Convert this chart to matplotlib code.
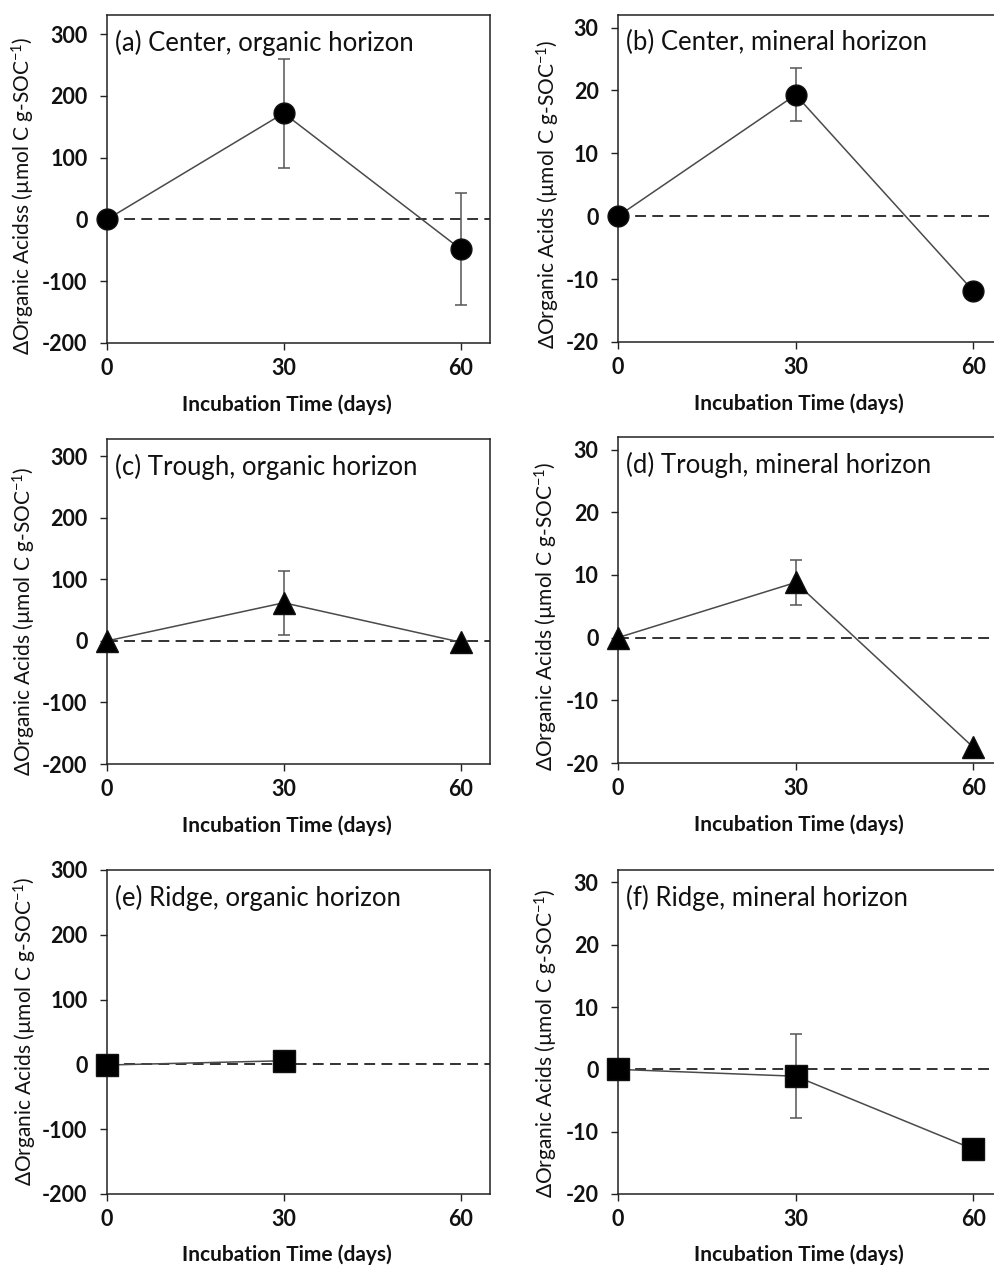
import numpy as np
import matplotlib
matplotlib.use("Agg")
import matplotlib.pyplot as plt

plt.rcParams['font.family'] = ['Lato', 'DejaVu Sans']
plt.rcParams['mathtext.default'] = 'regular'
plt.rcParams['axes.unicode_minus'] = False

# dados
days = [0, 30, 60]

center_org = [0, 172, -48]
center_org_err = [0, 88, 91]
center_min = [0, 19.3, -11.9]
center_min_err = [0, 4.2, 0]

trough_org = [0, 62, -2]
trough_org_err = [0, 52, 0]
trough_min = [0, 8.8, -17.5]
trough_min_err = [0, 3.6, 0]

ridge_org_days = [0, 30]
ridge_org = [-1, 5.6]
ridge_org_err = [0, 0]
ridge_min = [0, -1.1, -12.8]
ridge_min_err = [0, 6.7, 0]

titles = ['(a) Center, organic horizon', '(b) Center, mineral horizon',
          '(c) Trough, organic horizon', '(d) Trough, mineral horizon',
          '(e) Ridge, organic horizon', '(f) Ridge, mineral horizon']

ylab_a = 'ΔOrganic Acidss (µmol C g-SOC$^{-1}$)'
ylab = 'ΔOrganic Acids (µmol C g-SOC$^{-1}$)'

panels = [
    (days, center_org, center_org_err, 'o', 15, (-200, 331), [-200, -100, 0, 100, 200, 300], ylab_a),
    (days, center_min, center_min_err, 'o', 15, (-20, 32), [-20, -10, 0, 10, 20, 30], ylab),
    (days, trough_org, trough_org_err, '^', 16, (-200, 328), [-200, -100, 0, 100, 200, 300], ylab),
    (days, trough_min, trough_min_err, '^', 16, (-20, 32), [-20, -10, 0, 10, 20, 30], ylab),
    (ridge_org_days, ridge_org, ridge_org_err, 's', 16, (-200, 300), [-200, -100, 0, 100, 200, 300], ylab),
    (days, ridge_min, ridge_min_err, 's', 16, (-20, 32), [-20, -10, 0, 10, 20, 30], ylab),
]

# posicoes dos eixos em fracao da figura [esq, baixo, larg, alt]
positions = [
    [0.1075, 0.7291, 0.385, 0.2591],
    [0.6211, 0.7299, 0.3869, 0.2583],
    [0.1075, 0.3965, 0.385, 0.2567],
    [0.6211, 0.3973, 0.3869, 0.2575],
    [0.1075, 0.0569, 0.385, 0.2559],
    [0.6211, 0.0569, 0.3869, 0.2559],
]
# centro dos rotulos y (pixels a partir do canto superior esquerdo)
ylabel_xy = [(23, 196), (548, 194), (24, 621), (546, 616), (25, 1031), (546, 1043)]

W, H = 995, 1266
fig = plt.figure(figsize=(W / 100, H / 100), dpi=100)

for i, (x, y, err, mk, ms, ylim, yticks, yl) in enumerate(panels):
    ax = fig.add_axes(positions[i])
    ax.axhline(0, color='#222222', lw=1.3, ls=(0, (6, 3.5)), zorder=1)
    ax.plot(x, y, color='#4a4a4a', lw=1.1, zorder=2)
    xe = [xx for xx, e in zip(x, err) if e > 0]
    ye = [yy for yy, e in zip(y, err) if e > 0]
    ee = [e for e in err if e > 0]
    if ee:
        ax.errorbar(xe, ye, yerr=ee, fmt='none', ecolor='#555555', elinewidth=1.1,
                    capsize=4.5, capthick=1.1, zorder=2)
    ax.plot(x, y, ls='none', marker=mk, ms=ms, color='black', mec='#111111',
            clip_on=False, zorder=3)
    ax.set_xlim(0, 65)
    ax.set_ylim(*ylim)
    ax.set_xticks([0, 30, 60])
    ax.set_yticks(yticks)
    ax.tick_params(direction='out', length=5, width=1, color='#222222',
                   labelsize=15.5, pad=9, labelcolor='#111111')
    ax.tick_params(axis='x', pad=6)
    for lab in ax.get_xticklabels() + ax.get_yticklabels():
        lab.set_fontweight('bold')
    for s in ax.spines.values():
        s.set_color('#222222')
        s.set_linewidth(1.1)
    ax.text(0.022, 0.915, titles[i], transform=ax.transAxes, fontsize=18.5,
            va='center', ha='left', color='#111111')
    ax.set_xlabel('Incubation Time (days)', fontsize=15, fontweight='bold',
                  color='#111111')
    ax.xaxis.label.set_va('center')
    ax.xaxis.set_label_coords(30.5 / 65, -0.189)
    ax.set_ylabel(yl, fontsize=15, color='#111111')
    ax.yaxis.label.set_va('center')
    lx, ly = ylabel_xy[i]
    ax.yaxis.set_label_coords(lx / W, 1 - ly / H, transform=fig.transFigure)

fig.savefig('out.png', dpi=100)
